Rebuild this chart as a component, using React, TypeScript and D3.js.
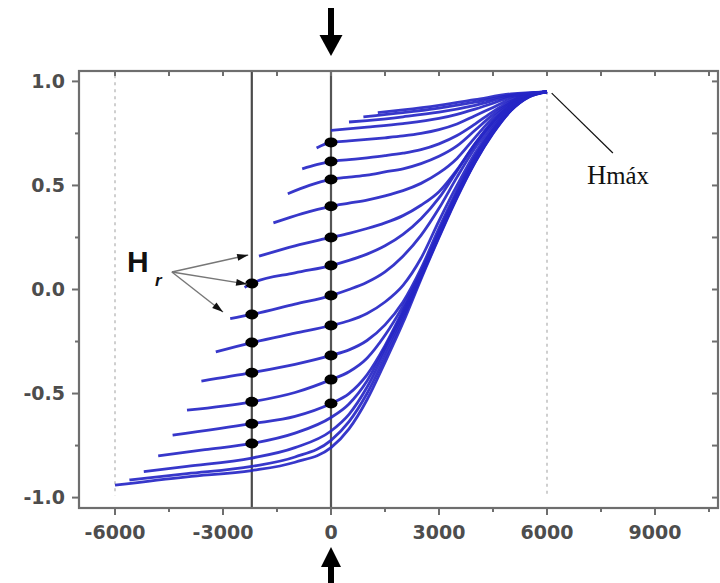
import React from 'react';
import * as d3 from 'd3';

// first order reversal curves, [H, M]
const forcA = [[-6000,-0.94],[-4000,-0.90],[-2200,-0.87],[-1000,-0.83],[0,-0.76],[500,-0.67],[1000,-0.53],[1500,-0.35],[2000,-0.16],[2500,0.05],[3000,0.25],[3500,0.44],[4000,0.61],[4500,0.75],[5000,0.86],[5500,0.925],[6000,0.95]];
const forcB = [[-5600,-0.915],[-4000,-0.885],[-2200,-0.85],[-1000,-0.805],[0,-0.725],[500,-0.635],[1000,-0.50],[1500,-0.325],[2000,-0.14],[2500,0.058],[3000,0.255],[3500,0.445],[4000,0.612],[4500,0.752],[5000,0.861],[5500,0.926],[6000,0.95]];
const forcC = [[-5200,-0.875],[-4000,-0.85],[-2200,-0.81],[-1000,-0.76],[0,-0.68],[500,-0.60],[1000,-0.47],[1500,-0.30],[2000,-0.125],[2500,0.065],[3000,0.26],[3500,0.447],[4000,0.615],[4500,0.755],[5000,0.862],[5500,0.928],[6000,0.95]];
const forcD = [[-4800,-0.80],[-3500,-0.77],[-2200,-0.74],[-1000,-0.69],[0,-0.615],[500,-0.55],[1000,-0.44],[1500,-0.28],[2000,-0.11],[2500,0.07],[3000,0.265],[3500,0.45],[4000,0.617],[4500,0.757],[5000,0.864],[5500,0.929],[6000,0.95]];
const forcE = [[-4400,-0.70],[-2200,-0.645],[-1000,-0.61],[0,-0.548],[500,-0.50],[1000,-0.41],[1500,-0.27],[2000,-0.10],[2500,0.075],[3000,0.27],[3500,0.455],[4000,0.62],[4500,0.76],[5000,0.865],[5500,0.93],[6000,0.95]];
const forcF = [[-4000,-0.58],[-2200,-0.54],[-1000,-0.495],[0,-0.433],[500,-0.395],[1000,-0.33],[1500,-0.22],[2000,-0.08],[2500,0.085],[3000,0.28],[3500,0.465],[4000,0.63],[4500,0.765],[5000,0.867],[5500,0.93],[6000,0.95]];
const forcG = [[-3600,-0.44],[-2200,-0.40],[-1000,-0.36],[0,-0.317],[500,-0.29],[1000,-0.245],[1500,-0.17],[2000,-0.06],[2500,0.10],[3000,0.295],[3500,0.475],[4000,0.64],[4500,0.77],[5000,0.87],[5500,0.932],[6000,0.95]];
const forcH = [[-3200,-0.30],[-2200,-0.255],[-1000,-0.21],[0,-0.173],[500,-0.15],[1000,-0.115],[1500,-0.06],[2000,0.02],[2500,0.15],[3000,0.33],[3500,0.50],[4000,0.655],[4500,0.78],[5000,0.875],[5500,0.935],[6000,0.95]];
const forcI = [[-2800,-0.14],[-2200,-0.12],[-1000,-0.07],[0,-0.029],[500,0.0],[1000,0.035],[1500,0.085],[2000,0.16],[2500,0.26],[3000,0.39],[3500,0.54],[4000,0.68],[4500,0.795],[5000,0.88],[5500,0.935],[6000,0.95]];
const forcJ = [[-2400,0.01],[-2200,0.029],[-1000,0.08],[0,0.115],[500,0.14],[1000,0.17],[1500,0.21],[2000,0.265],[2500,0.34],[3000,0.44],[3500,0.57],[4000,0.70],[4500,0.805],[5000,0.885],[5500,0.935],[6000,0.95]];
const forcK = [[-2000,0.16],[-1000,0.21],[0,0.25],[500,0.27],[1000,0.293],[1500,0.32],[2000,0.355],[2500,0.405],[3000,0.47],[3500,0.575],[4000,0.70],[4500,0.81],[5000,0.888],[5500,0.937],[6000,0.95]];
const forcL = [[-1600,0.32],[-800,0.365],[0,0.40],[500,0.415],[1000,0.43],[1500,0.45],[2000,0.475],[2500,0.51],[3000,0.56],[3500,0.63],[4000,0.73],[4500,0.825],[5000,0.895],[5500,0.94],[6000,0.95]];
const forcM = [[-1200,0.46],[-600,0.50],[0,0.529],[500,0.54],[1000,0.55],[1500,0.565],[2000,0.58],[2500,0.605],[3000,0.64],[3500,0.69],[4000,0.765],[4500,0.84],[5000,0.90],[5500,0.94],[6000,0.95]];
const forcN = [[-800,0.58],[-400,0.60],[0,0.615],[500,0.624],[1000,0.633],[1500,0.643],[2000,0.655],[2500,0.672],[3000,0.70],[3500,0.74],[4000,0.795],[4500,0.855],[5000,0.905],[5500,0.94],[6000,0.95]];
const forcO = [[-400,0.68],[0,0.707],[500,0.714],[1000,0.721],[1500,0.729],[2000,0.738],[2500,0.75],[3000,0.768],[3500,0.795],[4000,0.835],[4500,0.875],[5000,0.915],[5500,0.94],[6000,0.95]];
const forcP = [[0,0.765],[1000,0.78],[2000,0.797],[3000,0.822],[3500,0.842],[4000,0.867],[4500,0.895],[5000,0.925],[5500,0.943],[6000,0.95]];
const forcQ = [[500,0.805],[1000,0.812],[2000,0.83],[3000,0.852],[4000,0.885],[5000,0.93],[6000,0.95]];
const forcR = [[900,0.83],[2000,0.85],[3000,0.872],[4000,0.9],[5000,0.935],[6000,0.95]];
const forcS = [[1300,0.85],[2000,0.863],[3000,0.885],[4000,0.912],[5000,0.94],[6000,0.95]];
const forcs = [forcA, forcB, forcC, forcD, forcE, forcF, forcG, forcH, forcI, forcJ, forcK, forcL, forcM, forcN, forcO, forcP, forcQ, forcR, forcS];

// black markers on the two measuring lines
const dotsAt2200 = [0.029, -0.12, -0.255, -0.40, -0.54, -0.645, -0.74];
const dotsAtZero = [0.707, 0.615, 0.529, 0.40, 0.25, 0.115, -0.029, -0.173, -0.317, -0.433, -0.548];

const xMajor = [-6000, -3000, 0, 3000, 6000, 9000];
const xMinor = [-4500, -1500, 1500, 4500, 7500, 10500];
const yMajor = [-1, -0.5, 0, 0.5, 1];
const yMinor = [-0.75, -0.25, 0.25, 0.75];

const hrOrigin = [-4420, 0.084];
const hrTargets = [[-2300, 0.166], [-2330, 0.026], [-3000, -0.108]];
const hmaxLine = [[6130, 0.944], [7830, 0.656]];

const W = 720, H = 583;

export default function App() {
  const x = d3.scaleLinear().domain([-7000, 10750]).range([79, 718]);
  const y = d3.scaleLinear().domain([-1.05, 1.05]).range([508, 71]);
  const line = d3.line<number[]>().x(d => x(d[0])).y(d => y(d[1])).curve(d3.curveMonotoneX);
  const axisCol = '#6e6e6e';
  const lblStyle = { fontFamily: 'DejaVu Sans', fontWeight: 700, fontSize: 19, fill: '#4d4d4d' };

  const arrowHead = (x1: number, y1: number, x2: number, y2: number) => {
    const a = Math.atan2(y2 - y1, x2 - x1);
    const L = 11, w = 3.5;
    const bx = x2 - L * Math.cos(a), by = y2 - L * Math.sin(a);
    const px = -Math.sin(a) * w, py = Math.cos(a) * w;
    return `M${x2},${y2}L${bx + px},${by + py}L${bx - px},${by - py}Z`;
  };

  return (
    <svg width={W} height={H} style={{ position: 'absolute', left: 0, top: 0, background: '#fff' }}>
      {/* light dotted limits */}
      <line x1={x(-6000)} x2={x(-6000)} y1={y(1.03)} y2={y(-0.99)} stroke="#cfcfcf" strokeWidth={2} strokeDasharray="3 4" />
      <line x1={x(6000)} x2={x(6000)} y1={y(0.95)} y2={y(-0.99)} stroke="#cfcfcf" strokeWidth={2} strokeDasharray="3 4" />

      {/* measuring lines */}
      <line x1={x(-2200)} x2={x(-2200)} y1={71} y2={508} stroke="#4a4a4a" strokeWidth={2.2} />
      <line x1={x(0)} x2={x(0)} y1={71} y2={508} stroke="#555" strokeWidth={2.2} />

      {/* curves */}
      <g fill="none" stroke="#2626c6" strokeWidth={2.8} strokeOpacity={0.92}>
        {forcs.map((c, i) => <path key={i} d={line(c) || ''} />)}
      </g>

      {/* dots */}
      {dotsAt2200.map((m, i) => <ellipse key={'a' + i} cx={x(-2200)} cy={y(m)} rx={6.5} ry={5} fill="#000" />)}
      {dotsAtZero.map((m, i) => <ellipse key={'b' + i} cx={x(0)} cy={y(m)} rx={6.5} ry={5} fill="#000" />)}

      {/* frame */}
      <rect x={79} y={71} width={639} height={437} fill="none" stroke={axisCol} strokeWidth={2.2} />

      {/* ticks */}
      {xMajor.map(v => <line key={'xm' + v} x1={x(v)} x2={x(v)} y1={508} y2={515} stroke={axisCol} strokeWidth={2} />)}
      {xMinor.map(v => <line key={'xn' + v} x1={x(v)} x2={x(v)} y1={508} y2={512} stroke={axisCol} strokeWidth={2} />)}
      {xMajor.concat(xMinor).map(v => <line key={'xt' + v} x1={x(v)} x2={x(v)} y1={71} y2={76} stroke={axisCol} strokeWidth={2} />)}
      {yMajor.map(v => <line key={'ym' + v} x1={72} x2={79} y1={y(v)} y2={y(v)} stroke={axisCol} strokeWidth={2} />)}
      {yMinor.map(v => <line key={'yn' + v} x1={75} x2={79} y1={y(v)} y2={y(v)} stroke={axisCol} strokeWidth={2} />)}
      {yMajor.concat(yMinor).map(v => <line key={'yr' + v} x1={712} x2={718} y1={y(v)} y2={y(v)} stroke={axisCol} strokeWidth={2} />)}

      {/* tick labels */}
      {xMajor.map(v => <text key={'xl' + v} x={x(v)} y={539} textAnchor="middle" style={lblStyle}>{v}</text>)}
      {yMajor.map(v => <text key={'yl' + v} x={65} y={y(v)} dy="0.36em" textAnchor="end" style={lblStyle}>{v.toFixed(1)}</text>)}

      {/* Hr annotation */}
      {hrTargets.map((t, i) => {
        const x1 = x(hrOrigin[0]), y1 = y(hrOrigin[1]), x2 = x(t[0]), y2 = y(t[1]);
        return (
          <g key={'hr' + i}>
            <line x1={x1} y1={y1} x2={x2} y2={y2} stroke="#777" strokeWidth={1.4} />
            <path d={arrowHead(x1, y1, x2, y2)} fill="#111" />
          </g>
        );
      })}
      <text x={127} y={272} style={{ fontFamily: 'Liberation Sans', fontWeight: 700, fontSize: 30, fill: '#111' }}>H</text>
      <text x={155} y={286} style={{ fontFamily: 'Liberation Sans', fontWeight: 700, fontStyle: 'italic', fontSize: 17, fill: '#111' }}>r</text>

      {/* Hmax annotation */}
      <line x1={x(hmaxLine[0][0])} y1={y(hmaxLine[0][1])} x2={x(hmaxLine[1][0])} y2={y(hmaxLine[1][1])} stroke="#111" strokeWidth={1.2} />
      <text x={587} y={184} textLength={62} lengthAdjust="spacingAndGlyphs" style={{ fontFamily: 'Liberation Serif', fontSize: 25, fill: '#111' }}>
        <tspan style={{ fontSize: 27 }}>H</tspan>máx
      </text>

      {/* big arrows at H = 0 */}
      <rect x={x(0) - 3} y={8} width={6} height={30} fill="#000" />
      <path d={`M${x(0) - 11.5},35L${x(0) + 11.5},35L${x(0)},56Z`} fill="#000" />
      <path d={`M${x(0)},547L${x(0) - 10},567L${x(0) + 10},567Z`} fill="#000" />
      <rect x={x(0) - 3} y={565} width={6} height={18} fill="#000" />
    </svg>
  );
}
